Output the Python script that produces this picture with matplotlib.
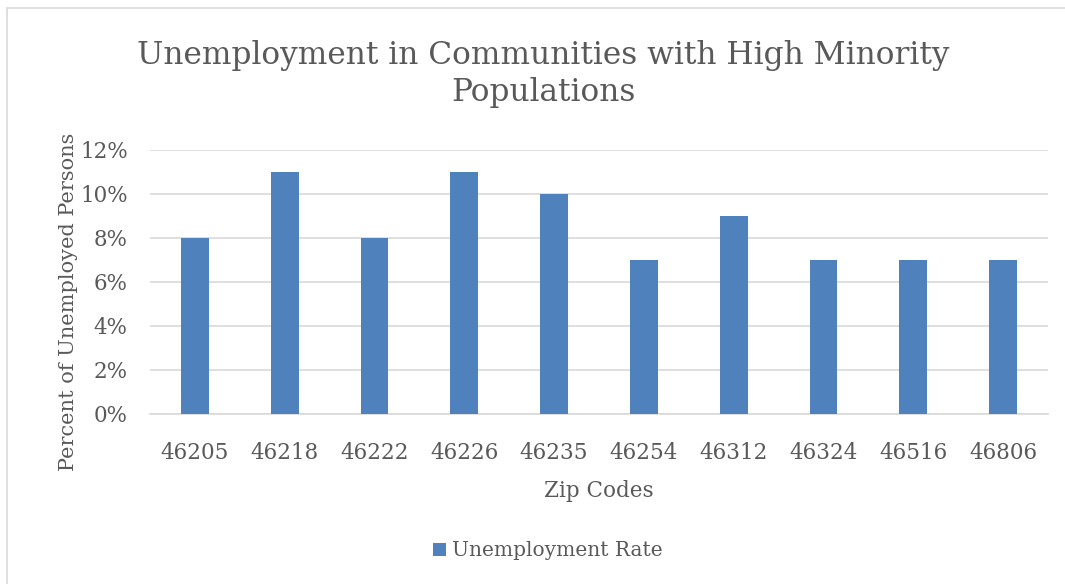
import numpy as np
import matplotlib.pyplot as plt
from matplotlib.patches import Rectangle
from matplotlib.ticker import PercentFormatter

zip_codes = ["46205", "46218", "46222", "46226", "46235",
             "46254", "46312", "46324", "46516", "46806"]
unemployment = [8, 11, 8, 11, 10, 7, 9, 7, 7, 7]

txt = "#595959"
plt.rcParams['font.family'] = ['DejaVu Serif']

fig = plt.figure(figsize=(10.65, 5.84), dpi=100)
ax = fig.add_axes([150 / 1065, 1 - 414 / 584, 898 / 1065, 264 / 584])

# outer chart frame (cropped at right/bottom)
fig.patches.append(Rectangle((7 / 1065, -0.1), 1.2, 1 - 8 / 584 + 0.1,
                             transform=fig.transFigure, fill=False,
                             edgecolor="#d9d9d9", linewidth=1.2))

x = np.arange(len(zip_codes))
ax.bar(x, unemployment, width=0.31, color="#4f81bd", zorder=3,
       label="Unemployment Rate")
ax.set_xlim(-0.5, len(zip_codes) - 0.5)
ax.set_ylim(0, 12)
ax.set_yticks(np.arange(0, 13, 2))
ax.yaxis.set_major_formatter(PercentFormatter(decimals=0))
ax.set_xticks(x)
ax.set_xticklabels(zip_codes)
ax.grid(axis="y", color="#d9d9d9", linewidth=1.2, zorder=0)
for s in ["top", "right", "left"]:
    ax.spines[s].set_visible(False)
ax.spines["bottom"].set_color("#d9d9d9")
ax.spines["bottom"].set_linewidth(1.2)
ax.tick_params(length=0, labelsize=15.5, labelcolor=txt)
ax.tick_params(axis="x", pad=20)
ax.tick_params(axis="y", pad=16)

ax.set_xlabel("Zip Codes", fontsize=15.5, color=txt, labelpad=12)
ax.set_ylabel("Percent of Unemployed Persons", fontsize=15, color=txt)
ax.yaxis.set_label_coords(-72 / 898, (414 - 302) / 264)

fig.text(543 / 1065, 1 - 74 / 584,
         "Unemployment in Communities with High Minority\nPopulations",
         ha="center", va="center", fontsize=22.5, color=txt, linespacing=1.25)

fig.legend(loc="center", bbox_to_anchor=(548 / 1065, 1 - 551 / 584),
           frameon=False, fontsize=14.5, labelcolor=txt, handlelength=0.65,
           handleheight=0.65, handletextpad=0.3)

fig.savefig("out.png", dpi=100)
